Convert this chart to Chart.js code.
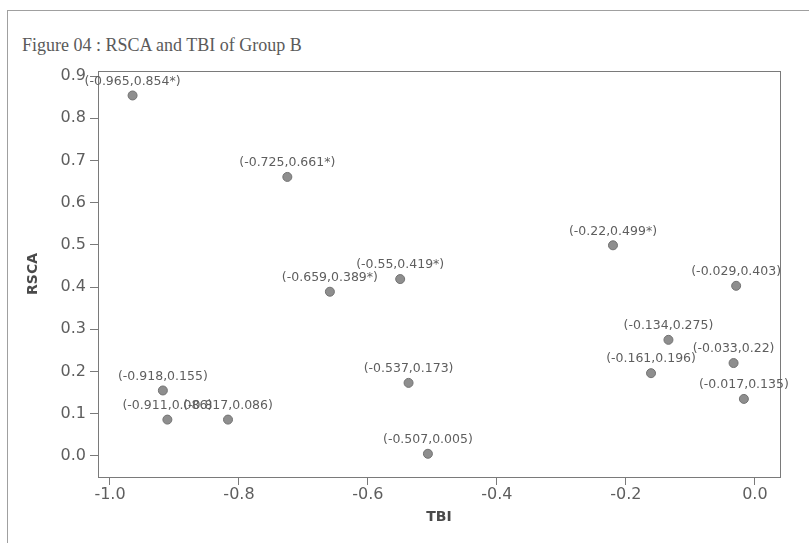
<!DOCTYPE html>
<html>
<head>
<meta charset="utf-8">
<script src="https://cdn.jsdelivr.net/npm/chart.js@4.4.1/dist/chart.umd.min.js"></script>
<style>
  html, body { margin: 0; padding: 0; background: #ffffff; }
  #wrap { position: relative; width: 809px; height: 543px; overflow: hidden; }
  #frame { position: absolute; left: 7px; top: 10px; width: 820px; height: 560px;
           border-top: 1px solid #a0a0a0; border-left: 1px solid #a0a0a0; }
  #title { position: absolute; left: 22px; top: 35px; font-family: "Liberation Serif", "DejaVu Serif", serif;
           font-size: 18px; color: #5a5a5a; white-space: nowrap; }
  canvas { position: absolute; left: 0; top: 0; }
</style>
</head>
<body>
<div id="wrap">
  <div id="frame"></div>
  <div id="title">Figure 04 : RSCA and TBI of Group B</div>
  <canvas id="c" width="809" height="543"></canvas>
</div>
<script>
// ---- data ----
const tbiValues  = [-0.965, -0.725, -0.659, -0.55, -0.22, -0.029, -0.134, -0.161, -0.033, -0.017, -0.537, -0.507, -0.918, -0.911, -0.817];
const rscaValues = [ 0.854,  0.661,  0.389,  0.419,  0.499,  0.403,  0.275,  0.196,  0.22,   0.135,  0.173,  0.005,  0.155,  0.086,  0.086];
const pointLabels = ["(-0.965,0.854*)", "(-0.725,0.661*)", "(-0.659,0.389*)", "(-0.55,0.419*)", "(-0.22,0.499*)",
                     "(-0.029,0.403)", "(-0.134,0.275)", "(-0.161,0.196)", "(-0.033,0.22)", "(-0.017,0.135)",
                     "(-0.537,0.173)", "(-0.507,0.005)", "(-0.918,0.155)", "(-0.911,0.086)", "(-0.817,0.086)"];
const xTicks = [-1.0, -0.8, -0.6, -0.4, -0.2, 0.0];
const yTicks = [0.0, 0.1, 0.2, 0.3, 0.4, 0.5, 0.6, 0.7, 0.8, 0.9];
const xTitle = "TBI";
const yTitle = "RSCA";

const points = tbiValues.map((x, i) => ({ x: x, y: rscaValues[i] }));

const framePlugin = {
  id: 'frame',
  beforeDatasetsDraw(chart) {
    const { ctx, chartArea: a } = chart;
    ctx.save();
    ctx.strokeStyle = '#7a7a7a';
    ctx.lineWidth = 1;
    ctx.strokeRect(Math.round(a.left) + 0.5, Math.round(a.top) + 0.5,
                   Math.round(a.right - a.left), Math.round(a.bottom - a.top));
    ctx.restore();
  }
};

const labelPlugin = {
  id: 'pointLabels',
  afterDatasetsDraw(chart) {
    const { ctx } = chart;
    const meta = chart.getDatasetMeta(0);
    ctx.save();
    ctx.font = '12.5px "DejaVu Sans", sans-serif';
    ctx.fillStyle = '#5e5e5e';
    ctx.textAlign = 'center';
    ctx.textBaseline = 'middle';
    meta.data.forEach((el, i) => {
      ctx.fillText(pointLabels[i], el.x, el.y - 14);
    });
    ctx.restore();
  }
};

new Chart(document.getElementById('c'), {
  type: 'scatter',
  data: {
    datasets: [{
      data: points,
      pointRadius: 4.5,
      pointBackgroundColor: '#8e8e8e',
      pointBorderColor: '#727272',
      pointBorderWidth: 1
    }]
  },
  options: {
    responsive: false,
    animation: false,
    devicePixelRatio: 1,
    layout: { padding: { left: 24, top: 71, right: 29, bottom: 0 } },
    plugins: { legend: { display: false }, tooltip: { enabled: false }, title: { display: false } },
    scales: {
      x: {
        type: 'linear',
        min: -1.0186,
        max: 0.039,
        afterBuildTicks(scale) { scale.ticks = xTicks.map(v => ({ value: v })); },
        afterFit(scale) { scale.height = 66; },
        border: { display: false },
        grid: { drawOnChartArea: false, drawTicks: true, tickLength: 8, color: '#7a7a7a' },
        ticks: { padding: 0, color: '#5e5e5e', font: { family: '"DejaVu Sans", sans-serif', size: 16 },
                 callback: v => Number(v).toFixed(1), maxRotation: 0 },
        title: { display: true, text: xTitle, color: '#4a4a4a',
                 font: { family: '"DejaVu Sans", sans-serif', size: 14, weight: 'bold', lineHeight: 1.2 },
                 padding: { top: 0, bottom: 17 } }
      },
      y: {
        type: 'linear',
        min: -0.05,
        max: 0.912,
        afterBuildTicks(scale) { scale.ticks = yTicks.map(v => ({ value: v })); },
        afterFit(scale) { scale.width = 74; },
        border: { display: false },
        grid: { drawOnChartArea: false, drawTicks: true, tickLength: 8, color: '#7a7a7a' },
        ticks: { padding: 4, color: '#5e5e5e', font: { family: '"DejaVu Sans", sans-serif', size: 16 },
                 callback: v => Number(v).toFixed(1) },
        title: { display: true, text: yTitle, color: '#4a4a4a',
                 font: { family: '"DejaVu Sans", sans-serif', size: 14, weight: 'bold', lineHeight: 1.2 },
                 padding: { top: 1, bottom: 0 } }
      }
    }
  },
  plugins: [framePlugin, labelPlugin]
});
</script>
</body>
</html>
